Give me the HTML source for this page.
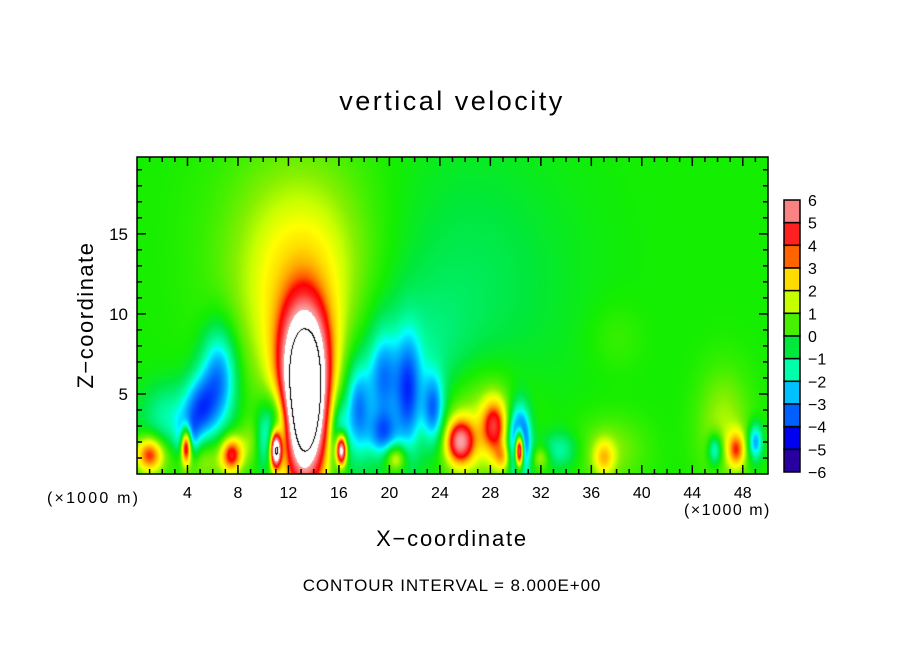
<!DOCTYPE html>
<html><head><meta charset="utf-8">
<style>
body{margin:0;background:#fff;width:904px;height:654px;overflow:hidden;font-family:"Liberation Sans",sans-serif;}
#wrap{position:relative;width:904px;height:654px;}
.t{position:absolute;color:#000;white-space:nowrap;}
</style></head>
<body>
<div id="wrap">
<div class="t" style="left:0;width:904px;text-align:center;top:86px;font-size:27px;letter-spacing:2.5px;">vertical velocity</div>
<canvas id="field" width="631" height="317" style="position:absolute;left:137px;top:157px;"></canvas>
<svg id="ov" width="904" height="654" style="position:absolute;left:0;top:0;"></svg>
<div class="t" style="top:302px;width:180px;text-align:center;font-size:22px;letter-spacing:1.5px;transform:rotate(-90deg);transform-origin:90px 13px;left:-4px;">Z−coordinate</div>
<div class="t" style="left:0;width:904px;text-align:center;top:526px;font-size:22px;letter-spacing:1.8px;">X−coordinate</div>
<div class="t" style="left:47px;top:490px;font-size:16px;letter-spacing:2.2px;">(×1000 m)</div>
<div class="t" style="left:684px;top:502px;font-size:16px;letter-spacing:1.5px;">(×1000 m)</div>
<div class="t" style="left:0;width:904px;text-align:center;top:576px;font-size:17px;letter-spacing:0.9px;">CONTOUR INTERVAL = 8.000E+00</div>
</div>
<script>
// ---- data ----
const xTicks=[4,8,12,16,20,24,28,32,36,40,44,48];
const zTicks=[5,10,15];
const cbLevels=[6,5,4,3,2,1,0,-1,-2,-3,-4,-5,-6];
const blobX=[13.3,13.3,13,13, 6.5,5,4,3.9,2.5, 26, 17.5,19.5,21.5,23.5,19.5,16,10,11,21, 11,16.2,30.3,30.3, 1,7.5,20.5,25.6,28.3,27,29,32,37,37.5,47.5,46.5,45.8,49,33.5,38,5,9.5];
const blobZ=[4.0,7.5,11,15, 6,4,2,1.8,3.5, 12, 4,6,5,4,2.5,2.5,2,3,6, 1.5,1.5,1.5,2, 1.2,1.2,1,2,3,3,1,1,1,1.5,1.5,3,1.5,2,1.5,8.5,1,2];
const blobAmp=[10,3,2,0.8, -3.3,-3,-3,7,-1.5, -0.7, -2.8,-2.2,-2.8,-3,-2.5,-2.5,-2,-2.5,-1.2, 8,8,10,-6, 4,4,2.5,5,3.5,1.8,2,1.5,2,1,3,1.3,-2.5,-3,-1.5,0.4,1.5,1.2];
const blobSx=[1.25,1.6,3.5,5, 1,0.9,0.6,0.3,1.5, 6, 0.7,0.8,0.7,0.6,0.8,0.5,0.5,0.8,3.5, 0.3,0.3,0.25,0.6, 0.8,0.6,0.6,0.8,0.7,2.5,0.5,0.5,0.6,2,0.5,1.5,0.4,0.4,1,1.5,1.5,1];
const blobSz=[3.5,2.5,4.5,5, 2.2,1.5,1,0.8,1.5, 6, 2,2,2.5,1.5,1,1.5,1.2,1.5,3.5, 0.8,0.7,0.8,1.5, 0.8,0.8,0.6,1,1.2,2.5,0.6,0.5,0.8,1.5,0.8,2.5,0.7,0.8,0.8,1.5,1,1];
const baseValue=0.0;
// colormap stops
const cmV=[-6,-5.5,-5,-4.5,-4,-3.5,-3,-2.5,-2,-1.5,-1,-0.5,0,0.5,1,1.5,2,2.5,3,3.5,4,4.5,5,5.5,6];
const cmC=[[100,0,160],[40,0,160],[0,0,176],[0,0,240],[0,50,255],[0,96,255],[0,144,255],[0,192,255],[0,255,255],[0,255,170],[0,240,120],[0,232,60],[20,238,0],[70,240,0],[130,240,0],[200,255,0],[255,255,0],[255,220,0],[255,170,0],[255,100,0],[255,0,0],[255,32,32],[255,80,80],[250,130,130],[248,165,165]];
// ---- axes ----
const X0=137,X1=768,Y0=474,Y1=157,XMAX=50,ZMAX=19.8;
const sx=x=>X0+x*(X1-X0)/XMAX;
const sz=z=>Y0-z*(Y0-Y1)/ZMAX;
function field(x,z){let v=baseValue;for(let k=0;k<blobX.length;k++){const dx=(x-blobX[k])/blobSx[k],dz=(z-blobZ[k])/blobSz[k];const d=dx*dx+dz*dz;if(d<25)v+=blobAmp[k]*Math.exp(-0.5*d);}return v;}
function color(v){if(v>6)return[255,255,255];if(v<=-6)return cmC[0];for(let i=0;i<cmV.length-1;i++){if(v<=cmV[i+1]){const t=(v-cmV[i])/(cmV[i+1]-cmV[i]);const a=cmC[i],b=cmC[i+1];return[a[0]+t*(b[0]-a[0]),a[1]+t*(b[1]-a[1]),a[2]+t*(b[2]-a[2])];}}return cmC[cmC.length-1];}
const cv=document.getElementById('field');const ctx=cv.getContext('2d');
const W=cv.width,H=cv.height;const img=ctx.createImageData(W,H);
const vals=new Float32Array(W*H);
for(let j=0;j<H;j++)for(let i=0;i<W;i++){const x=(i+0.5)*XMAX/(X1-X0);const z=(Y0-(Y1+j+0.5))*ZMAX/(Y0-Y1);const v=field(x,z);vals[j*W+i]=v;const c=color(v);const p=(j*W+i)*4;img.data[p]=c[0];img.data[p+1]=c[1];img.data[p+2]=c[2];img.data[p+3]=255;}
ctx.putImageData(img,0,0);
ctx.fillStyle='#000';
for(let j=1;j<H;j++)for(let i=1;i<W;i++){const a=vals[j*W+i]>=8,b=vals[j*W+i-1]>=8,c=vals[(j-1)*W+i]>=8;if(a!==b||a!==c)ctx.fillRect(i,j,1,1);}
const NS='http://www.w3.org/2000/svg';const ov=document.getElementById('ov');
function mk(tag,attrs){const e=document.createElementNS(NS,tag);for(const k in attrs)e.setAttribute(k,attrs[k]);ov.appendChild(e);return e;}
let r=mk('rect',{x:X0,y:Y1,width:X1-X0,height:Y0-Y1,fill:'none',stroke:'#000','stroke-width':1.5});


for(let x=1;x<50;x++){const major=x%4===0;const L=major?9:5;
 let t=mk('line',{x1:sx(x),x2:sx(x),y1:Y0,y2:Y0-L,stroke:'#000','stroke-width':1.5});
 
 
 mk('line',{x1:sx(x),x2:sx(x),y1:Y1,y2:Y1+L,stroke:'#000','stroke-width':1.5});}
xTicks.forEach(x=>{const t=mk('text',{x:sx(x),y:498,'text-anchor':'middle','font-size':16,'font-family':'Liberation Sans, sans-serif'});t.textContent=x;
 
 });
for(let z=1;z<20;z++){const L=z%5===0?9:5;
 let t=mk('line',{x1:X0,x2:X0+L,y1:sz(z),y2:sz(z),stroke:'#000','stroke-width':1.5});
 
 
 mk('line',{x1:X1,x2:X1-L,y1:sz(z),y2:sz(z),stroke:'#000','stroke-width':1.5});}
zTicks.forEach(z=>{const t=mk('text',{x:128,y:sz(z)+6,'text-anchor':'end','font-size':17,'font-family':'Liberation Sans, sans-serif'});t.textContent=z;
 
 });
const CB0=200,CB1=472,cbH=(CB1-CB0)/12;
for(let k=0;k<12;k++){const vTop=cbLevels[k],vBot=cbLevels[k+1];
 const c=color((vTop+vBot)/2);
 const rr=mk('rect',{x:784,y:CB0+k*cbH,width:16,height:cbH,fill:`rgb(${c.map(Math.round).join(',')})`,stroke:'#000','stroke-width':1.5});
 
 }
cbLevels.forEach((v,k)=>{const t=mk('text',{x:808,y:CB0+k*cbH+6,'font-size':16,'font-family':'Liberation Sans, sans-serif'});t.textContent=(v<0?'−':'')+Math.abs(v);
 
 });
</script>
</body></html>
